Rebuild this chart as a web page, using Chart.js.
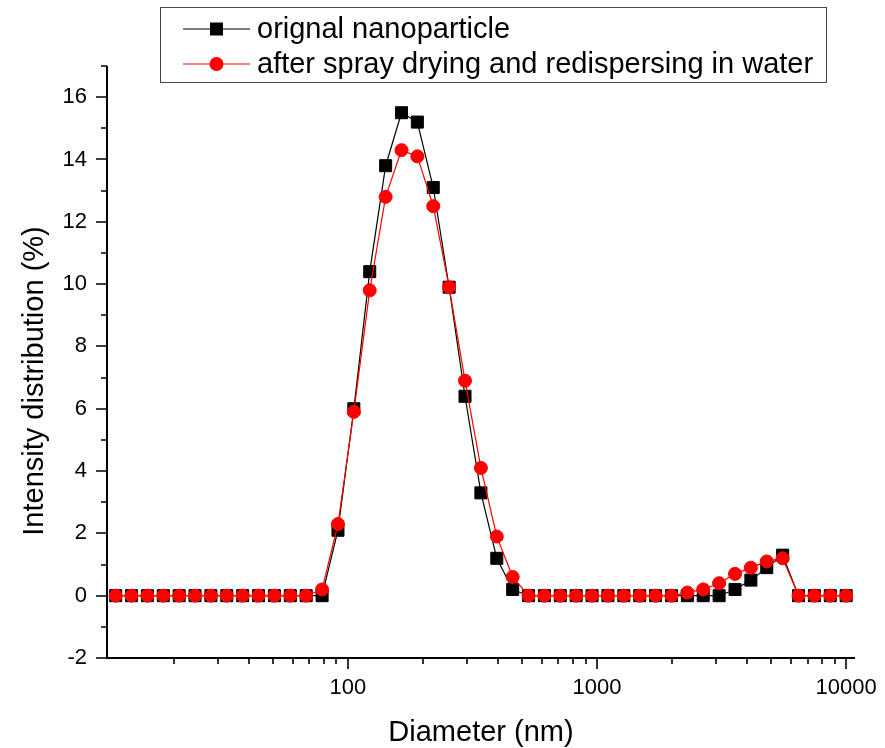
<!DOCTYPE html>
<html>
<head>
<meta charset="utf-8">
<script src="https://cdn.jsdelivr.net/npm/chart.js@4.4.0/dist/chart.umd.min.js"></script>
<style>
	html, body { margin: 0; padding: 0; background: #fff; }
</style>
</head>
<body>
<canvas id="distribucion-grafica" width="885" height="748"></canvas>
<script>
// diametros de clase (nm) y % de intensidad
const diametros = [11.7, 13.54, 15.69, 18.17, 21.04, 24.36, 28.21, 32.67, 37.84, 43.82, 50.75, 58.77, 68.06, 78.82, 91.28, 105.7, 122.4, 141.8, 164.2, 190.1, 220.2, 255, 295.3, 342, 396.1, 458.7, 531.2, 615.1, 712.4, 825, 955.4, 1106, 1281, 1484, 1718, 1990, 2305, 2669, 3091, 3580, 4145, 4801, 5560, 6439, 7456, 8635, 10000];
const original = [0, 0, 0, 0, 0, 0, 0, 0, 0, 0, 0, 0, 0, 0, 2.1, 6.0, 10.4, 13.8, 15.5, 15.2, 13.1, 9.9, 6.4, 3.3, 1.2, 0.2, 0, 0, 0, 0, 0, 0, 0, 0, 0, 0, 0, 0, 0, 0.2, 0.5, 0.9, 1.3, 0, 0, 0, 0];
const redispersado = [0, 0, 0, 0, 0, 0, 0, 0, 0, 0, 0, 0, 0, 0.2, 2.3, 5.9, 9.8, 12.8, 14.3, 14.1, 12.5, 9.9, 6.9, 4.1, 1.9, 0.6, 0, 0, 0, 0, 0, 0, 0, 0, 0, 0, 0.1, 0.2, 0.4, 0.7, 0.9, 1.1, 1.2, 0, 0, 0, 0];

const etiquetasX = [100, 1000, 10000];
const marcasMenoresX = [20, 30, 40, 50, 60, 70, 80, 90, 200, 300, 400, 500, 600, 700, 800, 900, 2000, 3000, 4000, 5000, 6000, 7000, 8000, 9000];
const etiquetasY = [-2, 0, 2, 4, 6, 8, 10, 12, 14, 16];

const nombres = ["orignal nanoparticle", "after spray drying and redispersing in water"];
const fuente = "'Liberation Sans', Arial, sans-serif";

(function () {
	const ctx = document.getElementById("distribucion-grafica");

	const ejesYLeyenda = {
		id: "ejesYLeyenda",
		afterDraw(chart) {
			const c = chart.ctx;
			const { left, right, top, bottom } = chart.chartArea;
			const x = chart.scales.x;
			const y = chart.scales.y;
			c.save();
			c.strokeStyle = "#000";
			c.lineWidth = 2;
			c.beginPath();
			c.moveTo(left, top);
			c.lineTo(left, bottom);
			c.lineTo(right, bottom);
			c.stroke();

			c.lineWidth = 1.6;
			c.beginPath();
			x.ticks.forEach((t) => {
				const px = Math.round(x.getPixelForValue(t.value));
				const largo = etiquetasX.includes(t.value) ? 11 : 6;
				c.moveTo(px, bottom);
				c.lineTo(px, bottom + largo);
			});
			y.ticks.forEach((t) => {
				const py = Math.round(y.getPixelForValue(t.value));
				const largo = etiquetasY.includes(t.value) ? 11 : 6;
				c.moveTo(left, py);
				c.lineTo(left - largo, py);
			});
			c.stroke();

			// titulos de ejes
			c.fillStyle = "#000";
			c.font = "29px " + fuente;
			c.textAlign = "center";
			c.textBaseline = "middle";
			c.fillText("Diameter (nm)", (left + right) / 2, 733);
			c.translate(35, 381);
			c.rotate(-Math.PI / 2);
			c.fillText("Intensity distribution (%)", 0, 0);
			c.setTransform(1, 0, 0, 1, 0, 0);

			// leyenda
			c.strokeStyle = "#444";
			c.lineWidth = 1;
			c.strokeRect(160.5, 7.5, 666, 75);
			c.font = "29px " + fuente;
			c.textAlign = "left";
			chart.data.datasets.forEach((ds, i) => {
				const fy = 29 + i * 35;
				c.strokeStyle = ds.borderColor;
				c.lineWidth = 1.2;
				c.beginPath();
				c.moveTo(183, fy);
				c.lineTo(250, fy);
				c.stroke();
				c.fillStyle = ds.backgroundColor;
				if (ds.pointStyle === "rect") {
					c.fillRect(210, fy - 6.5, 13, 13);
				} else {
					c.beginPath();
					c.arc(216.5, fy, 7, 0, Math.PI * 2);
					c.fill();
				}
				c.fillStyle = "#000";
				c.fillText(ds.label, 257, fy + 1);
			});
			c.restore();
		},
	};

	new Chart(ctx, {
		type: "scatter",
		data: {
			datasets: [
				{
					label: nombres[0],
					data: diametros.map((d, i) => ({ x: d, y: original[i] })),
					showLine: true,
					borderColor: "#000",
					backgroundColor: "#000",
					borderWidth: 1.2,
					pointStyle: "rect",
					pointRadius: 8.5,
					pointBorderWidth: 1,
					pointBorderColor: "#000",
					order: 1,
				},
				{
					label: nombres[1],
					data: diametros.map((d, i) => ({ x: d, y: redispersado[i] })),
					showLine: true,
					borderColor: "#ff0000",
					backgroundColor: "#ff0000",
					borderWidth: 1.2,
					pointStyle: "circle",
					pointRadius: 6.5,
					pointBorderWidth: 1,
					pointBorderColor: "#ff0000",
					order: 0,
				},
			],
		},
		options: {
			responsive: false,
			animation: false,
			layout: {
				padding: { top: 66, right: 30, left: 0, bottom: 0 },
			},
			scales: {
				x: {
					type: "logarithmic",
					min: 10.8,
					max: 10850,
					grid: { display: false, drawTicks: false },
					border: { display: false },
					afterBuildTicks: (scale) => {
						scale.ticks = marcasMenoresX.concat(etiquetasX).sort((a, b) => a - b).map((v) => ({ value: v }));
					},
					afterFit: (scale) => {
						scale.height = 90;
						scale.paddingLeft = 0;
						scale.paddingRight = 0;
					},
					ticks: {
						autoSkip: false,
						maxRotation: 0,
						minRotation: 0,
						padding: 17,
						color: "#000",
						font: { family: fuente, size: 22 },
						callback: (value) => (etiquetasX.includes(value) ? String(value) : ""),
					},
				},
				y: {
					min: -2,
					max: 17,
					grid: { display: false, drawTicks: false },
					border: { display: false },
					afterFit: (scale) => {
						scale.width = 107;
						scale.paddingTop = 0;
						scale.paddingBottom = 0;
					},
					ticks: {
						stepSize: 1,
						autoSkip: false,
						padding: 20,
						color: "#000",
						font: { family: fuente, size: 22 },
						callback: (value) => (etiquetasY.includes(value) ? String(value) : ""),
					},
				},
			},
			plugins: {
				legend: { display: false },
				tooltip: { enabled: false },
			},
		},
		plugins: [ejesYLeyenda],
	});
})();
</script>
</body>
</html>
